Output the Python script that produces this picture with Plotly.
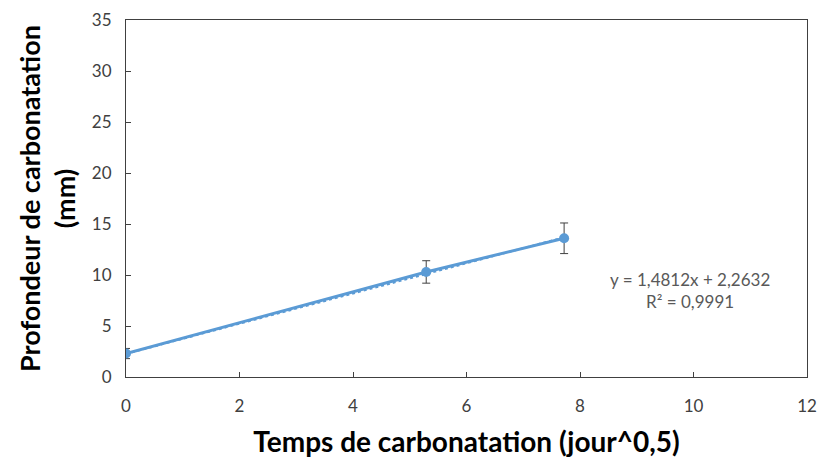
import plotly.graph_objects as go
import numpy as np

x_vals = [0.0, 5.29, 7.72]
y_vals = [2.3, 10.3, 13.6]
err_vals = [0.5, 1.1, 1.5]
slope = 1.4812
intercept = 2.2632
eq_text = "y = 1,4812x + 2,2632<br>R² = 0,9991"

color = "#5B9BD5"
font_family = "Lato, 'Open Sans', sans-serif"

fig = go.Figure()
xt = np.array([x_vals[0], x_vals[-1]])
fig.add_trace(go.Scatter(x=xt, y=slope * xt + intercept, mode="lines",
                         line=dict(color=color, width=2, dash="dot"), showlegend=False))
fig.add_trace(go.Scatter(x=x_vals, y=y_vals, mode="lines+markers",
                         line=dict(color=color, width=3),
                         marker=dict(color=color, size=10),
                         error_y=dict(type="data", array=err_vals, color="#404040",
                                      thickness=1, width=4),
                         showlegend=False))

fig.add_annotation(x=9.94, y=8.45, text=eq_text, showarrow=False,
                   font=dict(family=font_family, size=17, color="#595959"), align="center")

axis_common = dict(showline=True, linecolor="#404040", linewidth=1, mirror=True,
                   ticks="inside", ticklen=5, tickcolor="#404040", showgrid=False,
                   zeroline=False, automargin=False,
                   tickfont=dict(family=font_family, size=17, color="#404040"))

fig.update_xaxes(range=[0, 12], dtick=2, ticklabelstandoff=14, **axis_common,
                 title=dict(text="<b>Temps de carbonatation (jour^0,5)</b>",
                            font=dict(family=font_family, size=28, color="#000000"), standoff=16))
fig.update_yaxes(range=[0, 35], dtick=5, ticklabelstandoff=10, **axis_common,
                 title=dict(text="<b>Profondeur de carbonatation<br>(mm)</b>",
                            font=dict(family=font_family, size=27, color="#000000"), standoff=8))

fig.update_layout(width=818, height=459, margin=dict(l=126, r=11, t=20, b=82),
                  plot_bgcolor="white", paper_bgcolor="white")

fig.write_html("out.html", config={"displayModeBar": False},
               post_script="document.body.style.margin='0';")
